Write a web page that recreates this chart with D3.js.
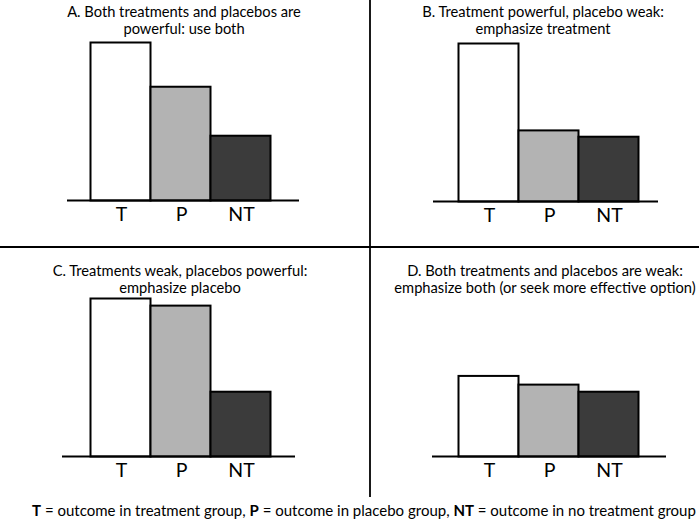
<!DOCTYPE html>
<html>
<head>
<meta charset="utf-8">
<script src="https://cdn.jsdelivr.net/npm/d3@7"></script>
<style>
  body { margin: 0; background: #fff; }
  text { font-family: Lato, "Open Sans", sans-serif; fill: #000; }
</style>
</head>
<body>
<div id="chart"></div>
<script>
// Data
var categories = ["T", "P", "NT"];
var fills = ["#ffffff", "#b3b3b3", "#3b3b3b"];

var titlesA = ["A. Both treatments and placebos are", "powerful: use both"];
var titlesB = ["B. Treatment powerful, placebo weak:", "emphasize treatment"];
var titlesC = ["C. Treatments weak, placebos powerful:", "emphasize placebo"];
var titlesD = ["D. Both treatments and placebos are weak:", "emphasize both (or seek more effective option)"];

var valuesA = [100, 72, 41];
var valuesB = [100, 45, 41];
var valuesC = [100, 95.5, 41];
var valuesD = [51, 45.5, 41];

var svgWidth = 699;
var svgHeight = 522;

var svg = d3.select("#chart")
  .append("svg")
  .attr("width", svgWidth)
  .attr("height", svgHeight);

// panel layout: bar start, baseline, axis line extents, title centre/baseline
var panels = [
  { titles: titlesA, values: valuesA, x0: 90.5, base: 200.5, l0: 67, l1: 299, tx: 184, ty: 17 },
  { titles: titlesB, values: valuesB, x0: 458.5, base: 201.5, l0: 433, l1: 658, tx: 543, ty: 17 },
  { titles: titlesC, values: valuesC, x0: 90.5, base: 456.5, l0: 62, l1: 295, tx: 180, ty: 276 },
  { titles: titlesD, values: valuesD, x0: 458.5, base: 456.5, l0: 432, l1: 666, tx: 545, ty: 276 }
];

var barWidth = 60;
var maxHeight = 158;

panels.forEach(function (p) {
  var g = svg.append("g");

  var x = d3.scaleBand()
    .domain(categories)
    .range([p.x0, p.x0 + barWidth * 3])
    .padding(0);

  var y = d3.scaleLinear()
    .domain([0, 100])
    .range([p.base, p.base - maxHeight]);

  // title
  g.selectAll("text.title")
    .data(p.titles)
    .enter()
    .append("text")
    .attr("class", "title")
    .attr("x", p.tx)
    .attr("y", (d, i) => p.ty + i * 17)
    .attr("text-anchor", "middle")
    .attr("font-size", "14.7px")
    .text(d => d);

  // bars
  g.selectAll("rect")
    .data(p.values)
    .enter()
    .append("rect")
    .attr("x", (d, i) => x(categories[i]))
    .attr("y", d => y(d))
    .attr("width", x.bandwidth())
    .attr("height", d => p.base - y(d))
    .attr("fill", (d, i) => fills[i])
    .attr("stroke", "#000")
    .attr("stroke-width", 2);

  // baseline
  g.append("line")
    .attr("x1", p.l0)
    .attr("x2", p.l1)
    .attr("y1", p.base)
    .attr("y2", p.base)
    .attr("stroke", "#000")
    .attr("stroke-width", 2);

  // category labels
  g.selectAll("text.cat")
    .data(categories)
    .enter()
    .append("text")
    .attr("class", "cat")
    .attr("x", d => x(d) + x.bandwidth() / 2 + 1)
    .attr("y", p.base + 20)
    .attr("text-anchor", "middle")
    .attr("font-size", "19.5px")
    .text(d => d);
});

// dividers
svg.append("line")
  .attr("x1", 0).attr("x2", svgWidth)
  .attr("y1", 247).attr("y2", 247)
  .attr("stroke", "#000").attr("stroke-width", 1.8);

svg.append("line")
  .attr("x1", 370).attr("x2", 370)
  .attr("y1", 0).attr("y2", 497)
  .attr("stroke", "#000").attr("stroke-width", 1.8);

// footnote
var note = svg.append("text")
  .attr("x", 364)
  .attr("y", 516)
  .attr("text-anchor", "middle")
  .attr("font-size", "15px");

note.append("tspan").attr("font-weight", "bold").text("T");
note.append("tspan").text(" = outcome in treatment group, ");
note.append("tspan").attr("font-weight", "bold").text("P");
note.append("tspan").text(" = outcome in placebo group, ");
note.append("tspan").attr("font-weight", "bold").text("NT");
note.append("tspan").text(" = outcome in no treatment group");
</script>
</body>
</html>
